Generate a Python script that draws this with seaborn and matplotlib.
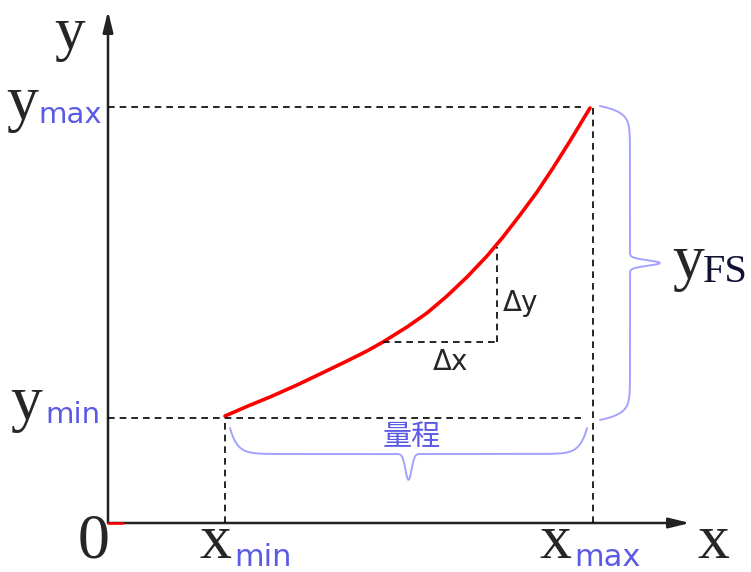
import numpy as np
import pandas as pd
import seaborn as sns
import matplotlib.pyplot as plt
from matplotlib.patches import FancyArrowPatch

sns.set_style('white')
plt.rcParams['font.family'] = ['DejaVu Sans', 'Noto Sans CJK SC']

# sensor characteristic curve (pixel-like units, origin at the axes corner)
curve_x = [117, 140, 162, 189, 212, 239, 259, 275, 299, 319, 339, 359, 379, 395, 412, 429, 445, 462, 482]
curve_y = [107, 117, 126, 138, 149, 162, 172, 181, 196, 210, 227, 246, 267, 286, 308, 331, 355, 382, 415]
x_min, x_max = 119, 485
y_min, y_max = 105, 416
dx_start = (275, 181)   # Δx / Δy triangle
dy_top = (389, 276)

sub_col = '#5a5ae6'
brace_col = '#a3a3ff'
serif = 'Liberation Serif'

fig = plt.figure(figsize=(7.51, 5.72), dpi=100)
ax = fig.add_axes([0, 0, 1, 1])
ax.set_xlim(-108, 643)
ax.set_ylim(-49, 523)
ax.axis('off')

df = pd.DataFrame({'x': curve_x, 'y': curve_y})
sns.lineplot(data=df, x='x', y='y', color='red', lw=2.6, ax=ax, sort=False)
ax.lines[-1].set_solid_joinstyle('round')

# axes with arrows
for end in [(0, 512), (582, 0)]:
    ax.add_patch(FancyArrowPatch((0, 0), end, arrowstyle='-|>,head_length=0.9,head_width=0.22',
                                 mutation_scale=14, color='#222222', lw=1.8, shrinkA=0, shrinkB=0))
ax.plot([0, 15], [0, 0], color='red', lw=1.8)

# dashed guides
dash = dict(color='black', lw=1.2, ls=(0, (4, 3)))
ax.plot([0, x_max - 12], [y_min, y_min], **dash)
ax.plot([0, x_max - 12], [y_max, y_max], **dash)
ax.plot([x_min - 2, x_min - 2], [0, y_min], **dash)
ax.plot([x_max, x_max], [0, y_max], **dash)
ax.plot([dx_start[0], dy_top[0]], [dx_start[1], dx_start[1]], **dash)
ax.plot([dy_top[0], dy_top[0]], [dx_start[1], dy_top[1]], **dash)


def brace(a, b):
    # curly brace profile from a to b, depth normalised to 1
    t = np.linspace(0, 1, 400)
    s = a + (b - a) * t
    h = np.minimum(t, 1 - t)
    off = 0.5 * (1 - np.exp(-h * 50)) + 0.5 * np.exp(-((t - 0.5) / 0.012) ** 2)
    return s, off


s, off = brace(y_min - 2, y_max + 1)
ax.plot(492 + off * 60, s, color=brace_col, lw=1.4)
s, off = brace(x_min + 3, x_max - 6)
ax.plot(s, y_min - 10 - off * 52, color=brace_col, lw=1.4)

# labels
big = 46
ax.text(-38, 489, 'y', fontsize=44, family=serif, ha='center', va='center')
ax.text(-86, 419, 'y', fontsize=big, family=serif, ha='center', va='center')
ax.text(-6, 408, 'max', fontsize=21, color=sub_col, ha='right', va='center')
ax.text(-82, 119, 'y', fontsize=big, family=serif, ha='center', va='center')
ax.text(-8, 108, 'min', fontsize=21, color=sub_col, ha='right', va='center')
ax.text(-14, -49, '0', fontsize=big, family=serif, ha='center', va='bottom')
ax.text(107, -49, 'x', fontsize=big, family=serif, ha='center', va='bottom')
ax.text(126, -49, 'min', fontsize=22, color=sub_col, ha='left', va='bottom')
ax.text(447, -49, 'x', fontsize=big, family=serif, ha='center', va='bottom')
ax.text(466, -49, 'max', fontsize=22, color=sub_col, ha='left', va='bottom')
ax.text(605, -49, 'x', fontsize=big, family=serif, ha='center', va='bottom')
ax.text(580, 260, 'y', fontsize=big, family=serif, ha='center', va='center')
ax.text(595, 250, 'FS', fontsize=29, family=serif, color='#111133', ha='left', va='center')
ax.text(dy_top[0] + 6, 220, 'Δy', fontsize=20, ha='left', va='center')
ax.text(342, 161, 'Δx', fontsize=20, ha='center', va='center')
ax.text(304, 86, '量程', fontsize=21, color=sub_col, ha='center', va='center',
        family=['Noto Sans CJK SC', 'DejaVu Sans'])

fig.savefig('out.png', dpi=100)
